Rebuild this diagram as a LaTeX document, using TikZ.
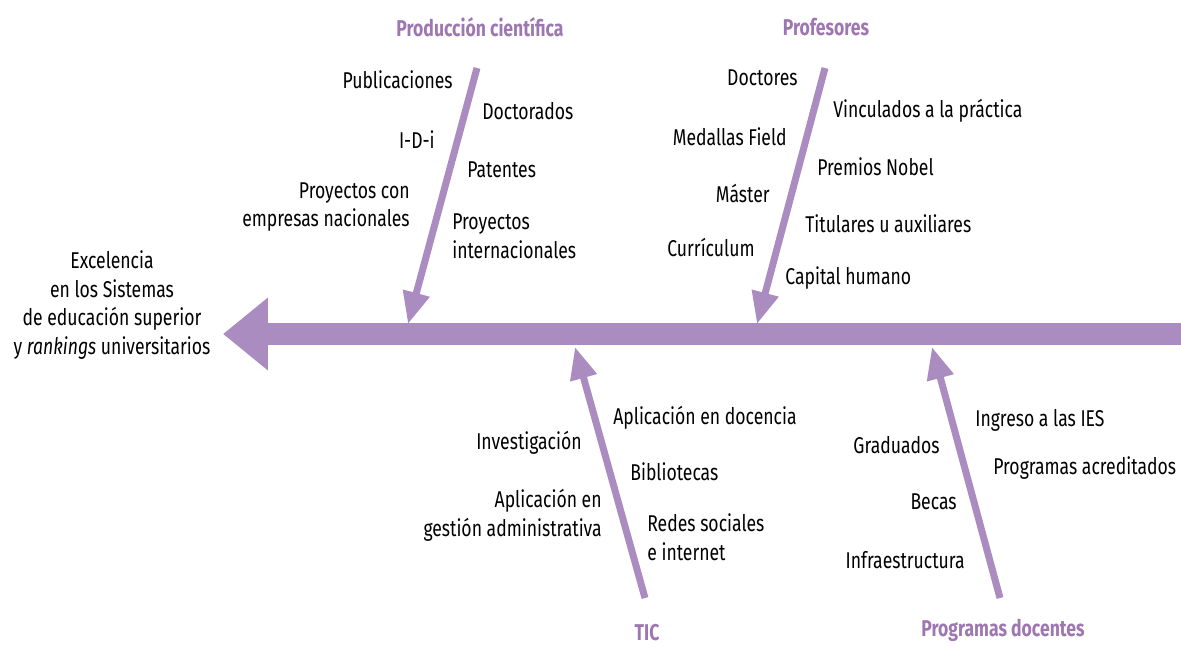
\documentclass[tikz,border=0pt]{standalone}
\usepackage{fontspec}
\setmainfont[FakeStretch=0.77]{Fira Sans}
\usetikzlibrary{arrows.meta}
\definecolor{lila}{RGB}{170,140,192}
\definecolor{lilaosc}{RGB}{158,118,178}

\begin{document}
\begin{tikzpicture}[x=0.02cm, y=-0.02cm,
  texto/.style={inner sep=0pt, font=\fontsize{13}{16.4}\selectfont},
  izq/.style={texto, anchor=east, align=right},
  der/.style={texto, anchor=west, align=left},
  categoria/.style={inner sep=0pt, font=\fontsize{13}{16.4}\selectfont\bfseries, text=lilaosc},
  espina/.style={draw=lila, line width=0.44cm, -{Triangle[length=0.9cm, width=1.4cm]}},
  rama/.style={draw=lila, line width=0.14cm, -{Triangle[length=0.64cm, width=0.52cm]}}]

\useasboundingbox (0,0) rectangle (1181,648);

% Espina principal
\coordinate (cola) at (1181,334);
\coordinate (punta) at (223,334);
\draw[espina] (cola) -- (punta);

% Efecto
\node[texto, align=center] (efecto) at (112,305)
  {Excelencia\\en los Sistemas\\de educación superior\\y \textit{rankings} universitarios};

% Producción científica
\node[categoria] (prod) at (480,27) {Producción científica};
\coordinate (prod-ini) at (477,68);
\coordinate (prod-fin) at (408,324);
\draw[rama] (prod-ini) -- (prod-fin);
\foreach \x/\y/\t [count=\i] in {453/80/Publicaciones, 435/140/I-D-i, 410/207/{Proyectos con\\empresas nacionales}}{
    \node[izq] (prod-i\i) at (\x,\y) {\t};
}
\foreach \x/\y/\t [count=\i] in {482/111/Doctorados, 467/170/Patentes, 452/236/{Proyectos\\internacionales}}{
    \node[der] (prod-d\i) at (\x,\y) {\t};
}

% Profesores
\node[categoria] (prof) at (826,27) {Profesores};
\coordinate (prof-ini) at (825,68);
\coordinate (prof-fin) at (757,324);
\draw[rama] (prof-ini) -- (prof-fin);
\foreach \x/\y/\t [count=\i] in {798/78/Doctores, 787/137/Medallas Field, 770/193/Máster, 755/247/Currículum}{
    \node[izq] (prof-i\i) at (\x,\y) {\t};
}
\foreach \x/\y/\t [count=\i] in {833/111/Vinculados a la práctica, 817/167/Premios Nobel, 805/224/Titulares u auxiliares, 785/278/Capital humano}{
    \node[der] (prof-d\i) at (\x,\y) {\t};
}

% TIC
\node[categoria] (tic) at (647,633) {TIC};
\coordinate (tic-ini) at (645,598);
\coordinate (tic-fin) at (575,347);
\draw[rama] (tic-ini) -- (tic-fin);
\foreach \x/\y/\t [count=\i] in {582/443/Investigación, 602/515/{Aplicación en\\gestión administrativa}}{
    \node[izq] (tic-i\i) at (\x,\y) {\t};
}
\foreach \x/\y/\t [count=\i] in {613/418/Aplicación en docencia, 630/472/Bibliotecas, 647/537/{Redes sociales\\e internet}}{
    \node[der] (tic-d\i) at (\x,\y) {\t};
}

% Programas docentes
\node[categoria] (prog) at (1003,630) {Programas docentes};
\coordinate (prog-ini) at (1000,598);
\coordinate (prog-fin) at (932,347);
\draw[rama] (prog-ini) -- (prog-fin);
\foreach \x/\y/\t [count=\i] in {940/445/Graduados, 957/502/Becas, 965/560/Infraestructura}{
    \node[izq] (prog-i\i) at (\x,\y) {\t};
}
\foreach \x/\y/\t [count=\i] in {975/420/Ingreso a las IES, 993/468/Programas acreditados}{
    \node[der] (prog-d\i) at (\x,\y) {\t};
}

\end{tikzpicture}
\end{document}
